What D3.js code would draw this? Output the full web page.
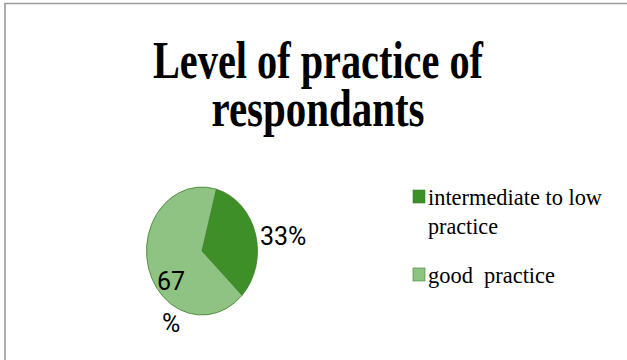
<!DOCTYPE html>
<html>
<head>
<meta charset="utf-8">
<script src="https://cdn.jsdelivr.net/npm/d3@7"></script>
<style>
  body { margin: 0; background: #fff; }
  svg { display: block; }
</style>
</head>
<body>
<div id="chart"></div>
<script>
// data
var categories = ["intermediate to low practice", "good practice"];
var values = [33, 67];
var labels = ["33%", "67%"];
var titleLines = ["Level of practice of", "respondants"];
var legendLines = [["intermediate to low", "practice"], ["good  practice"]];
var colors = ["#3f8f28", "#8fc383"];

var width = 627, height = 360;

var svg = d3.select("#chart").append("svg")
    .attr("width", width)
    .attr("height", height);

// slide frame
svg.append("path")
    .attr("d", "M5,360 V3.5 H627")
    .attr("fill", "none")
    .attr("stroke", "#9a9a9a")
    .attr("stroke-width", 1.6);

// title
var titleY = [78, 126], titleW = [330, 213];
svg.append("g").selectAll("text")
    .data(titleLines)
    .enter().append("text")
    .attr("x", 318)
    .attr("y", function(d, i) { return titleY[i]; })
    .attr("text-anchor", "middle")
    .attr("textLength", function(d, i) { return titleW[i]; })
    .attr("lengthAdjust", "spacingAndGlyphs")
    .style("font-family", "'Liberation Serif', 'Times New Roman', serif")
    .style("font-weight", "bold")
    .style("font-size", "52px")
    .text(function(d) { return d; });

// pie (slightly taller than wide, as in the original)
var cx = 202, cy = 251, r = 55.5, sy = 64 / 55.5;
var startA = 15 * Math.PI / 180;

var pie = d3.pie().sort(null)
    .startAngle(startA)
    .endAngle(startA + 2 * Math.PI);
var arc = d3.arc().innerRadius(0).outerRadius(r);

var g = svg.append("g")
    .attr("transform", "translate(" + cx + "," + cy + ") scale(1," + sy + ")");

g.selectAll("path")
    .data(pie(values))
    .enter().append("path")
    .attr("d", arc)
    .attr("fill", function(d, i) { return colors[i]; })
    .attr("stroke", "#3d7f2a")
    .attr("stroke-width", 0.8)
    .attr("vector-effect", "non-scaling-stroke");

// data labels
var lab = svg.append("g")
    .style("font-family", "Roboto, Arial, sans-serif")
    .style("font-size", "25px")
    .attr("fill", "#000");
lab.append("text").attr("x", 260).attr("y", 245).text(labels[0]);
lab.append("text").attr("x", 157).attr("y", 290).text(labels[1].replace("%", ""));
lab.append("text").attr("x", 162).attr("y", 332).text("%");

// legend
var legY = [190, 268];
var leg = svg.append("g").selectAll("g")
    .data(categories)
    .enter().append("g")
    .attr("transform", function(d, i) { return "translate(413," + legY[i] + ")"; });

leg.append("rect")
    .attr("width", 12)
    .attr("height", 13)
    .attr("fill", function(d, i) { return colors[i]; })
    .attr("stroke", "#3d7f2a")
    .attr("stroke-width", 0.6);

var lineW = { "intermediate to low": 174, "practice": 70, "good  practice": 127 };
leg.each(function(d, i) {
    d3.select(this).selectAll("text")
        .data(legendLines[i])
        .enter().append("text")
        .attr("x", 15)
        .attr("y", function(t, j) { return 15 + j * 29; })
        .attr("textLength", function(t) { return lineW[t]; })
        .attr("lengthAdjust", "spacingAndGlyphs")
        .style("white-space", "pre")
        .style("font-family", "'Liberation Serif', 'Times New Roman', serif")
        .style("font-size", "24px")
        .attr("fill", "#000")
        .text(function(t) { return t; });
});
</script>
</body>
</html>
